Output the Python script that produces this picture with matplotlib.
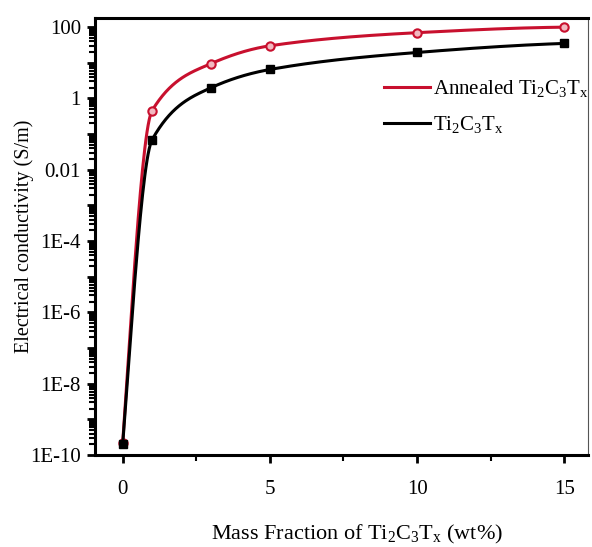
import matplotlib
matplotlib.use('Agg')
import matplotlib.pyplot as plt
import matplotlib.ticker as mticker
import numpy as np

plt.rcParams['font.family'] = ['Liberation Serif', 'DejaVu Serif']
plt.rcParams['mathtext.fontset'] = 'custom'
plt.rcParams['mathtext.rm'] = 'Liberation Serif'
plt.rcParams['mathtext.it'] = 'Liberation Serif:italic'

# dados
mass_fraction = [0, 1, 3, 5, 10, 15]
annealed = [2.2e-10, 0.46, 9.5, 30, 70, 100]
pristine = [2.0e-10, 0.07, 2.0, 6.5, 19.5, 35]


# curva suave (hermite monotona no espaco log)
def pchip(x, y, n=400):
    x = np.asarray(x, float)
    y = np.asarray(y, float)
    h = np.diff(x)
    d = np.diff(y) / h
    m = np.zeros_like(y)
    for k in range(1, len(x) - 1):
        if d[k - 1] * d[k] > 0:
            w1 = 2 * h[k] + h[k - 1]
            w2 = h[k] + 2 * h[k - 1]
            m[k] = (w1 + w2) / (w1 / d[k - 1] + w2 / d[k])
    m[0] = ((2 * h[0] + h[1]) * d[0] - h[0] * d[1]) / (h[0] + h[1])
    m[-1] = ((2 * h[-1] + h[-2]) * d[-1] - h[-1] * d[-2]) / (h[-1] + h[-2])
    xs = np.linspace(x[0], x[-1], n)
    idx = np.clip(np.searchsorted(x, xs) - 1, 0, len(x) - 2)
    t = (xs - x[idx]) / h[idx]
    h00 = 2 * t**3 - 3 * t**2 + 1
    h10 = t**3 - 2 * t**2 + t
    h01 = -2 * t**3 + 3 * t**2
    h11 = t**3 - t**2
    ys = h00 * y[idx] + h10 * h[idx] * m[idx] + h01 * y[idx + 1] + h11 * h[idx] * m[idx + 1]
    return xs, ys


fig = plt.figure(figsize=(5.92, 5.47), dpi=100)
ax = fig.add_axes([0.160, 0.168, 0.833, 0.799])

red = '#c8102e'
xs, ys = pchip(mass_fraction, np.log10(annealed))
ax.plot(xs, 10**ys, color=red, lw=2.2, label='Annealed Ti$_2$C$_3$T$_\\mathrm{x}$')
ax.plot(mass_fraction, annealed, 'o', color=red, mfc='#f2b8c0', mew=1.5, ms=6)

xs, ys = pchip(mass_fraction, np.log10(pristine))
ax.plot(xs, 10**ys, color='black', lw=2.2, label='Ti$_2$C$_3$T$_\\mathrm{x}$')
ax.plot(mass_fraction, pristine, 's', color='black', ms=6)

ax.set_yscale('log')
ax.set_ylim(1e-10, 180)
ax.set_xlim(-0.95, 15.8)

ax.xaxis.set_major_locator(mticker.MultipleLocator(5))
ax.xaxis.set_minor_locator(mticker.MultipleLocator(2.5))
ax.yaxis.set_major_locator(mticker.LogLocator(base=10, numticks=20))
ax.yaxis.set_minor_locator(mticker.LogLocator(base=10, subs=np.arange(2, 10), numticks=20))


def ylab(v, pos):
    e = int(round(np.log10(v)))
    if e % 2:
        return ''
    if e >= 0:
        return '%d' % round(v)
    if e == -2:
        return '0.01'
    return '1E%d' % e


ax.yaxis.set_major_formatter(mticker.FuncFormatter(ylab))
ax.yaxis.set_minor_formatter(mticker.NullFormatter())

for s in ['left', 'bottom', 'top']:
    ax.spines[s].set_linewidth(2.2)
ax.spines['right'].set_linewidth(0.8)
ax.spines['right'].set_color('#555555')
ax.tick_params(which='major', direction='out', length=6, width=2, labelsize=15)
ax.tick_params(which='minor', direction='out', length=4, width=1.5)
ax.tick_params(axis='x', pad=12)
ax.tick_params(axis='y', pad=4)

ax.set_xlabel('Mass Fraction of Ti$_2$C$_3$T$_\\mathrm{x}$ (wt%)', fontsize=16)
ax.xaxis.set_label_coords(0.533, -0.156)
ax.set_ylabel('Electrical conductivity (S/m)', fontsize=14.5)
ax.yaxis.set_label_coords(-0.124, 0.5)

ax.legend(loc='upper right', bbox_to_anchor=(1.04, 0.905), frameon=False, fontsize=15,
          handlelength=2.2, handletextpad=0.15, labelspacing=0.7)

fig.savefig('out.png', dpi=100)
